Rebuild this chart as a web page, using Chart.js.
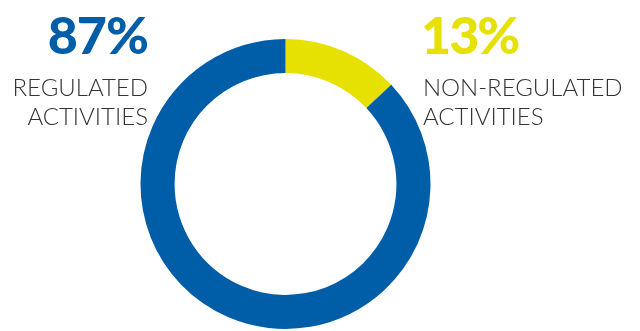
<!DOCTYPE html>
<html>
<head>
<meta charset="utf-8">
<script src="https://cdn.jsdelivr.net/npm/chart.js@4/dist/chart.umd.min.js"></script>
<style>
  html, body { margin: 0; padding: 0; background: #fff; }
  #wrap { position: relative; width: 640px; height: 331px; overflow: hidden; }
  #c { position: absolute; left: 0; top: 0; }
  .pct { position: absolute; font-family: "Lato", sans-serif; font-weight: 900; font-size: 52px; line-height: 1; letter-spacing: -1px; }
  .lbl { position: absolute; font-family: "Lato", sans-serif; font-weight: 300; font-size: 24px; line-height: 29px; color: #333; }
</style>
</head>
<body>
<div id="wrap">
  <canvas id="c" width="640" height="331"></canvas>
  <div class="pct" id="p0" style="right:492px; top:8px;"></div>
  <div class="lbl" id="l0" style="right:492px; top:72px; text-align:right;"></div>
  <div class="pct" id="p1" style="left:421px; top:8px; letter-spacing:-2px;"></div>
  <div class="lbl" id="l1" style="left:423px; top:72px; text-align:left;"></div>
</div>
<script>
const categories = ["Non-regulated activities", "Regulated activities"];
const values = [13, 87];
const pctLabels = ["13%", "87%"];
const textLines = [["NON-REGULATED", "ACTIVITIES"], ["REGULATED", "ACTIVITIES"]];
const colors = ["#E6E100", "#005EA8"];

document.getElementById("p1").textContent = pctLabels[0];
document.getElementById("p1").style.color = colors[0];
document.getElementById("l1").innerHTML = textLines[0].join("<br>");
document.getElementById("p0").textContent = pctLabels[1];
document.getElementById("p0").style.color = colors[1];
document.getElementById("l0").innerHTML = textLines[1].join("<br>");

new Chart(document.getElementById("c"), {
  type: "doughnut",
  data: {
    labels: categories,
    datasets: [{ data: values, backgroundColor: colors, borderWidth: 0, hoverOffset: 0 }]
  },
  options: {
    responsive: false,
    animation: false,
    cutout: "76.5%",
    layout: { padding: { left: 140.5, right: 209.5, top: 39, bottom: 2 } },
    plugins: { legend: { display: false }, tooltip: { enabled: false } }
  }
});
</script>
</body>
</html>
